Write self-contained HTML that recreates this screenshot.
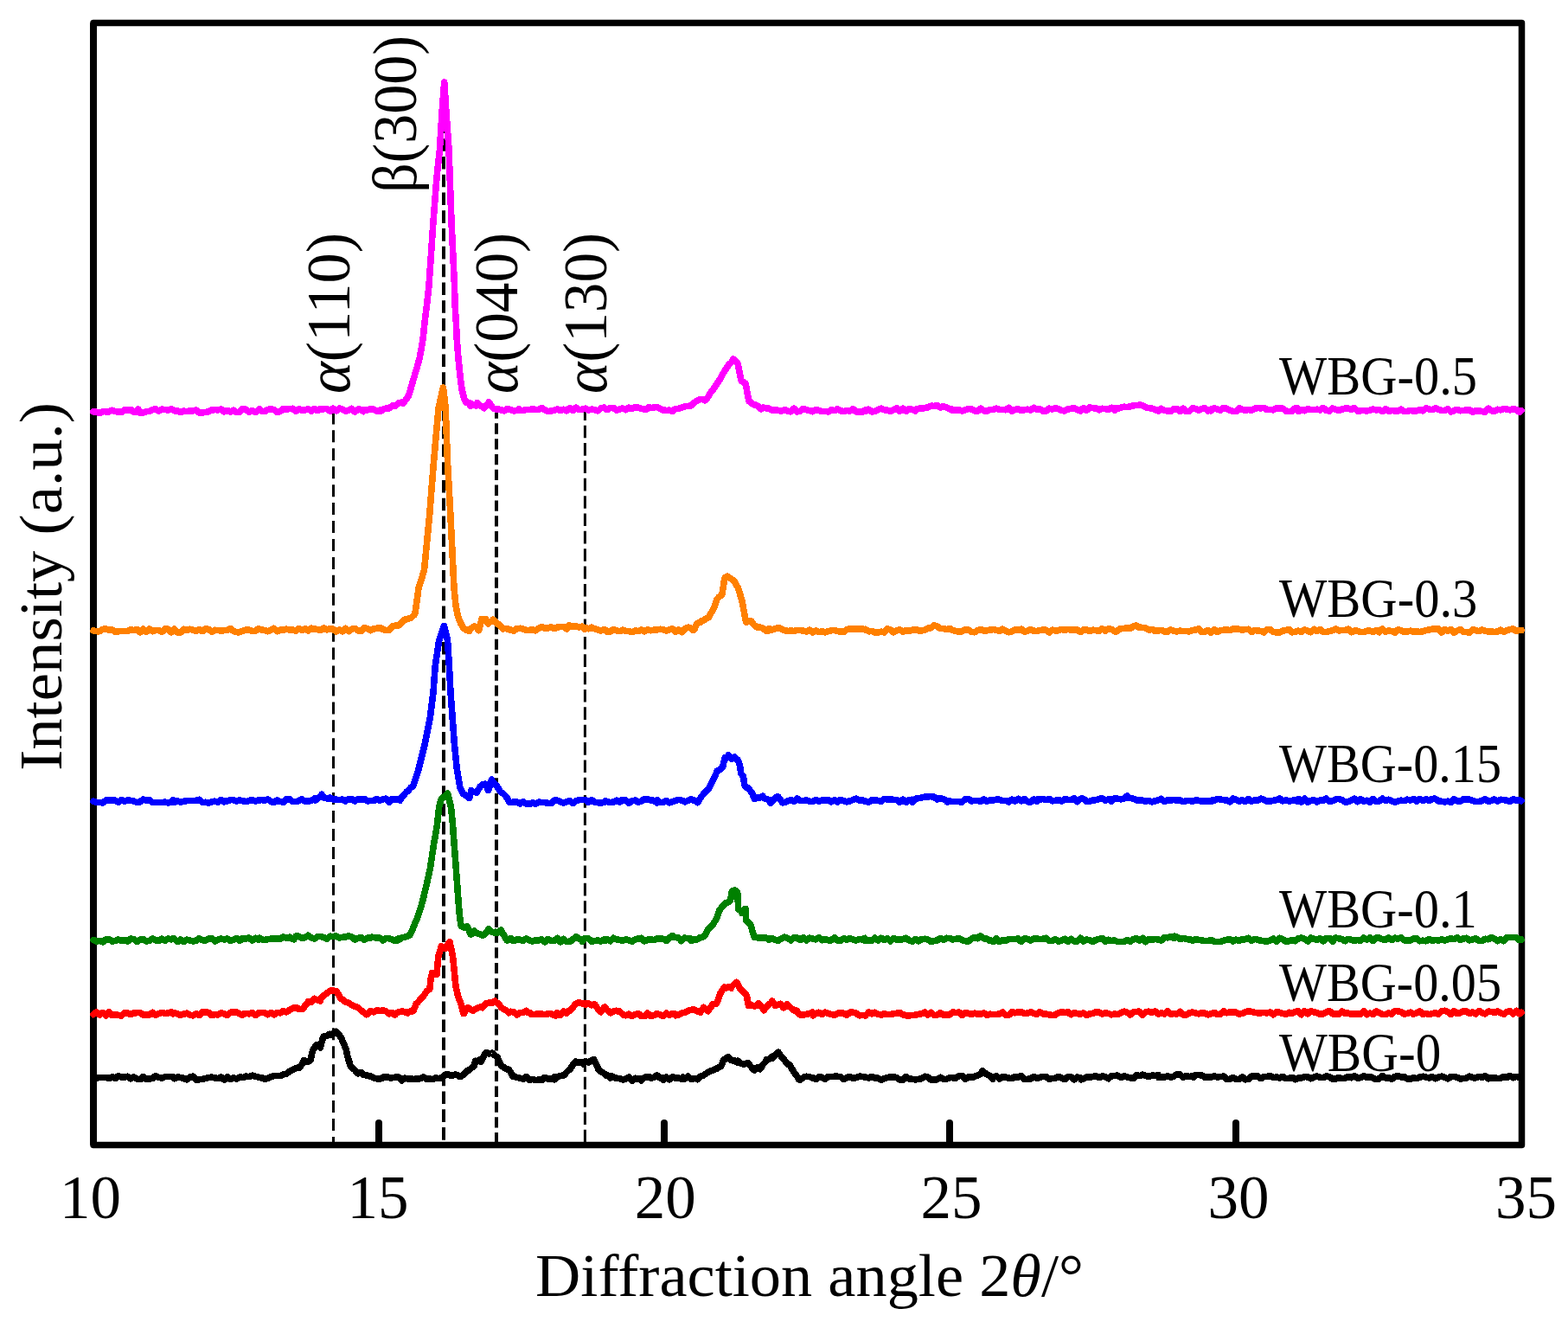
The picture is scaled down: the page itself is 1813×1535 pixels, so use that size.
<!DOCTYPE html><html><head><meta charset="utf-8"><title>XRD patterns</title><style>html,body{margin:0;padding:0;background:#fff;}svg{display:block;}text{font-family:"Liberation Serif", "DejaVu Serif", serif;}</style></head><body>
<svg width="1813" height="1535" viewBox="0 0 1813 1535">
<rect x="0" y="0" width="1813" height="1535" fill="#fff"/>
<line x1="438" y1="1298" x2="438" y2="1322" stroke="#000" stroke-width="8" stroke-linecap="round"/>
<line x1="768" y1="1298" x2="768" y2="1322" stroke="#000" stroke-width="8" stroke-linecap="round"/>
<line x1="1098" y1="1298" x2="1098" y2="1322" stroke="#000" stroke-width="8" stroke-linecap="round"/>
<line x1="1429" y1="1298" x2="1429" y2="1322" stroke="#000" stroke-width="8" stroke-linecap="round"/>
<path d="M108 26.5 H1759.5 V1323.5 H108 Z" fill="none" stroke="#000" stroke-width="7.5" stroke-linejoin="round"/>
<line x1="108" y1="26.5" x2="108" y2="1323.5" stroke="#000" stroke-width="8"/>
<line x1="385.5" y1="478.0" x2="385.5" y2="1320" stroke="#000" stroke-width="3.0" stroke-dasharray="14.00 6.94" stroke-dashoffset="1.62"/>
<line x1="513.0" y1="126.0" x2="513.0" y2="1320" stroke="#000" stroke-width="4.0" stroke-dasharray="14.60 6.18" stroke-dashoffset="7.40"/>
<line x1="574.0" y1="477.0" x2="574.0" y2="1320" stroke="#000" stroke-width="4.0" stroke-dasharray="12.30 5.52" stroke-dashoffset="5.48"/>
<line x1="676.4" y1="476.0" x2="676.4" y2="1320" stroke="#000" stroke-width="3.0" stroke-dasharray="14.60 5.75" stroke-dashoffset="4.60"/>
<path d="M108.0 475.9 L111.6 476.2 L115.2 477.7 L118.8 475.6 L122.4 475.8 L126.0 476.0 L129.6 474.2 L133.2 475.6 L136.8 476.0 L140.4 476.6 L144.0 473.6 L147.6 474.4 L151.2 473.4 L154.8 476.4 L158.4 475.9 L160.0 473.0 L162.0 477.1 L165.6 477.0 L169.2 475.7 L172.8 475.5 L176.4 473.5 L180.0 472.9 L183.6 475.1 L187.2 473.1 L190.8 473.6 L194.4 473.9 L198.0 472.9 L201.6 474.8 L205.2 474.7 L208.8 476.5 L212.4 475.1 L216.0 475.6 L219.6 475.0 L220.0 475.7 L223.2 474.8 L226.8 474.0 L230.4 477.1 L234.0 477.1 L237.6 476.4 L241.2 475.8 L244.8 474.0 L248.4 473.6 L252.0 473.9 L255.6 472.9 L259.2 475.9 L262.8 474.3 L266.4 476.2 L270.0 474.2 L273.6 476.7 L277.2 476.2 L280.8 472.4 L284.4 473.3 L288.0 476.4 L291.6 474.4 L295.2 476.6 L298.8 474.1 L300.0 472.6 L302.4 475.0 L306.0 475.7 L309.6 473.4 L313.2 472.6 L316.8 473.7 L320.4 476.4 L324.0 475.5 L327.6 472.6 L331.2 473.2 L334.8 472.5 L338.4 472.3 L342.0 475.5 L345.6 472.8 L349.2 474.4 L352.8 473.9 L356.4 472.8 L360.0 475.1 L363.6 472.5 L367.2 474.7 L370.8 472.4 L372.0 473.7 L374.4 472.7 L378.0 472.6 L381.6 475.1 L385.0 474.3 L385.2 472.2 L388.8 474.8 L392.4 472.1 L396.0 473.0 L399.6 475.1 L403.2 474.4 L406.8 472.3 L410.4 476.1 L414.0 473.1 L417.6 473.4 L420.0 475.6 L421.2 473.8 L424.8 473.8 L428.4 472.9 L432.0 473.1 L435.6 475.2 L439.2 474.0 L440.0 475.3 L442.8 473.4 L446.4 472.0 L450.0 471.8 L453.5 469.0 L453.6 469.2 L457.2 469.1 L460.8 466.0 L464.4 465.0 L466.0 466.4 L468.0 463.7 L471.6 458.7 L472.3 458.2 L475.2 448.3 L476.2 444.7 L478.8 435.8 L480.9 429.0 L482.4 423.9 L485.3 413.4 L486.0 409.4 L489.0 392.5 L489.6 386.4 L491.1 371.7 L493.2 354.8 L493.7 350.9 L496.0 330.0 L496.8 318.2 L500.4 264.9 L501.0 256.0 L504.0 217.7 L505.0 205.0 L507.6 180.4 L508.5 172.0 L511.0 130.0 L511.2 127.5 L513.7 95.0 L514.8 111.7 L516.0 130.0 L518.4 163.6 L519.0 172.0 L522.0 256.0 L525.5 330.0 L525.6 334.1 L526.0 351.0 L527.3 372.0 L528.3 392.5 L529.2 404.2 L529.9 413.4 L532.0 434.3 L532.8 440.7 L534.0 450.0 L536.4 459.7 L536.6 460.3 L539.0 465.5 L540.0 465.0 L543.6 465.8 L544.0 469.0 L547.2 468.2 L550.8 469.0 L552.0 465.4 L554.4 468.5 L558.0 470.0 L560.0 471.7 L561.6 469.0 L565.0 468.2 L565.2 464.6 L568.8 469.9 L570.0 471.5 L572.4 472.8 L576.0 473.0 L579.6 473.7 L580.0 474.1 L583.2 474.8 L586.8 472.3 L590.4 473.8 L594.0 474.8 L597.6 474.6 L600.0 472.6 L601.2 474.3 L604.8 474.6 L608.4 473.4 L612.0 473.7 L615.6 472.6 L619.2 473.6 L622.8 473.7 L626.4 471.4 L630.0 473.9 L633.6 475.5 L637.2 475.0 L640.8 474.4 L644.4 473.0 L648.0 474.5 L650.0 473.9 L651.6 473.2 L655.2 474.9 L658.8 471.6 L662.4 474.5 L666.0 471.3 L669.6 473.7 L673.2 473.2 L676.8 472.1 L680.4 474.1 L684.0 473.1 L687.6 473.6 L691.2 474.9 L694.8 472.0 L698.4 470.9 L700.0 472.2 L702.0 473.7 L705.6 471.5 L709.2 471.3 L712.8 474.2 L716.4 473.0 L720.0 472.0 L723.6 473.7 L727.2 471.2 L730.8 472.5 L734.4 470.4 L738.0 471.2 L741.6 472.6 L745.2 472.9 L748.8 472.7 L750.0 470.5 L752.4 471.6 L756.0 470.9 L759.6 470.6 L763.2 472.3 L766.8 474.0 L770.4 474.4 L774.0 474.2 L777.6 475.5 L780.0 473.1 L781.2 472.5 L784.8 472.5 L788.4 471.0 L792.0 469.8 L795.6 469.4 L799.2 468.9 L800.0 468.4 L802.8 465.4 L806.4 462.9 L808.0 462.3 L810.0 461.5 L813.6 461.9 L815.0 462.8 L817.2 461.3 L820.8 454.9 L824.4 450.5 L828.0 445.0 L830.0 442.0 L831.6 439.8 L835.2 433.0 L838.8 427.3 L842.4 421.9 L843.0 421.0 L846.0 418.6 L848.0 415.0 L849.6 416.5 L853.0 420.0 L853.2 421.1 L856.8 439.0 L857.0 440.0 L860.4 442.3 L862.0 443.0 L864.0 453.7 L866.0 464.0 L867.6 464.7 L871.2 467.8 L872.0 467.7 L874.8 468.4 L878.4 471.2 L880.0 472.7 L882.0 471.0 L885.6 471.7 L889.2 472.3 L892.8 474.0 L896.4 473.7 L900.0 474.5 L903.6 475.1 L907.2 473.5 L910.8 475.3 L914.4 475.8 L918.0 472.2 L921.6 475.9 L925.2 475.0 L928.8 472.4 L932.4 473.8 L936.0 474.6 L939.6 475.8 L943.2 473.5 L946.8 474.3 L950.4 475.7 L954.0 475.3 L957.6 476.0 L961.2 473.8 L964.8 474.7 L968.4 472.7 L972.0 475.0 L975.6 475.4 L979.2 474.6 L982.8 475.0 L986.4 472.7 L990.0 475.8 L993.6 476.1 L997.2 476.1 L1000.0 474.2 L1000.8 475.3 L1004.4 473.2 L1008.0 475.8 L1011.6 475.6 L1015.2 473.3 L1018.8 472.2 L1022.4 473.7 L1026.0 474.2 L1029.6 475.2 L1033.2 473.9 L1036.8 471.9 L1040.4 475.4 L1044.0 472.1 L1047.6 475.3 L1051.2 472.6 L1054.8 473.3 L1058.4 475.2 L1060.0 472.7 L1062.0 472.3 L1065.6 472.2 L1069.2 471.7 L1072.8 470.8 L1076.4 469.2 L1080.0 469.4 L1083.6 468.6 L1087.2 471.0 L1090.8 469.5 L1094.4 471.0 L1098.0 473.0 L1100.0 472.7 L1101.6 474.5 L1105.2 474.1 L1108.8 473.6 L1112.4 475.0 L1116.0 473.7 L1119.6 472.6 L1123.2 472.9 L1126.8 474.9 L1130.4 475.2 L1134.0 472.1 L1137.6 474.9 L1141.2 475.4 L1144.8 473.5 L1148.4 473.7 L1152.0 472.1 L1155.6 473.5 L1159.2 473.4 L1162.8 473.8 L1166.4 471.3 L1170.0 475.4 L1173.6 473.4 L1177.2 472.9 L1180.8 474.6 L1184.4 473.6 L1188.0 473.2 L1191.6 474.1 L1195.2 471.3 L1198.8 473.4 L1202.4 472.9 L1206.0 475.2 L1209.6 475.1 L1213.2 472.2 L1216.8 473.1 L1220.4 471.5 L1224.0 472.9 L1227.6 474.5 L1231.2 474.9 L1234.8 473.0 L1238.4 472.3 L1242.0 471.8 L1245.6 473.6 L1249.2 475.0 L1252.8 471.5 L1256.4 474.3 L1260.0 471.0 L1263.6 471.7 L1267.2 471.9 L1270.8 473.9 L1274.4 472.3 L1278.0 472.4 L1281.6 473.5 L1285.2 471.3 L1288.8 474.0 L1290.0 471.5 L1292.4 472.6 L1296.0 471.1 L1299.6 470.2 L1303.2 470.7 L1306.8 469.8 L1310.4 468.9 L1314.0 468.3 L1315.0 468.6 L1317.6 467.9 L1321.2 468.7 L1324.8 470.9 L1328.4 471.6 L1332.0 472.0 L1335.6 473.8 L1339.2 473.7 L1340.0 474.9 L1342.8 472.3 L1346.4 474.6 L1350.0 474.9 L1353.6 475.3 L1357.2 472.7 L1360.8 472.7 L1364.4 475.4 L1368.0 472.3 L1371.6 475.7 L1375.2 475.2 L1378.8 471.9 L1382.4 472.4 L1386.0 474.5 L1389.6 472.4 L1393.2 471.7 L1396.8 475.0 L1400.0 473.2 L1400.4 474.8 L1404.0 471.9 L1407.6 473.1 L1411.2 474.3 L1414.8 471.4 L1418.4 472.2 L1422.0 474.3 L1425.6 475.3 L1429.2 475.6 L1432.8 471.8 L1436.4 473.5 L1440.0 474.6 L1443.6 473.5 L1447.2 474.3 L1450.8 472.1 L1454.4 471.6 L1458.0 471.8 L1461.6 471.5 L1465.2 473.7 L1468.8 473.6 L1472.4 473.8 L1476.0 471.9 L1479.6 472.1 L1483.2 472.2 L1486.8 475.0 L1490.4 475.7 L1494.0 475.4 L1497.6 471.7 L1500.0 471.6 L1501.2 475.5 L1504.8 473.3 L1508.4 474.7 L1512.0 472.7 L1515.6 473.4 L1519.2 473.6 L1522.8 473.2 L1526.4 473.9 L1530.0 471.4 L1533.6 474.4 L1537.2 475.0 L1540.8 472.1 L1544.4 473.3 L1548.0 474.6 L1551.6 473.1 L1555.2 472.2 L1558.8 472.0 L1562.4 473.6 L1566.0 471.4 L1569.6 475.2 L1573.2 474.8 L1576.8 474.4 L1580.4 475.1 L1584.0 474.1 L1587.6 473.1 L1591.2 473.9 L1594.8 473.5 L1598.4 475.6 L1600.0 474.8 L1602.0 472.5 L1605.6 475.3 L1609.2 474.6 L1612.8 474.8 L1616.4 475.0 L1620.0 473.2 L1623.6 475.4 L1627.2 475.3 L1630.8 474.5 L1634.4 474.9 L1638.0 474.9 L1641.6 473.4 L1645.2 474.8 L1648.8 471.9 L1652.4 473.1 L1656.0 473.7 L1659.6 471.7 L1663.2 473.3 L1666.8 474.5 L1670.4 474.5 L1674.0 472.8 L1677.6 475.9 L1681.2 474.7 L1684.8 473.3 L1688.4 474.8 L1692.0 474.4 L1695.6 474.2 L1699.2 473.6 L1702.8 476.3 L1706.4 474.8 L1710.0 475.1 L1713.6 475.4 L1717.2 476.3 L1720.8 472.2 L1724.4 474.8 L1728.0 475.3 L1731.6 473.3 L1735.2 473.9 L1738.8 472.4 L1742.4 473.1 L1746.0 473.9 L1749.6 472.7 L1753.2 473.4 L1756.8 476.3 L1759.0 474.6" fill="none" stroke="#ff00ff" stroke-width="7.6" stroke-linejoin="round" stroke-linecap="round" shape-rendering="crispEdges"/>
<path d="M108.0 729.0 L111.6 729.7 L115.2 729.7 L118.8 727.4 L122.4 726.8 L126.0 728.4 L129.6 728.0 L133.2 730.4 L136.8 729.8 L140.4 729.4 L144.0 729.3 L147.6 729.7 L151.2 727.4 L154.8 728.7 L158.4 727.5 L162.0 730.8 L165.6 727.1 L169.2 730.4 L172.8 727.1 L176.4 729.8 L180.0 728.3 L183.6 728.6 L187.2 730.5 L190.8 726.9 L194.4 727.1 L198.0 730.8 L200.0 729.0 L201.6 727.2 L205.2 731.1 L208.8 730.9 L212.4 727.2 L216.0 728.6 L219.6 727.3 L223.2 728.1 L226.8 729.4 L230.4 727.4 L234.0 729.7 L237.6 726.9 L241.2 727.4 L244.8 730.2 L248.4 728.3 L252.0 728.4 L255.6 729.1 L259.2 728.6 L262.8 728.2 L266.4 726.6 L270.0 729.6 L273.6 730.7 L277.2 730.7 L280.8 729.3 L284.4 728.0 L288.0 728.0 L291.6 729.4 L295.2 729.3 L298.8 726.8 L300.0 727.3 L302.4 727.9 L306.0 728.5 L309.6 729.8 L313.2 728.4 L316.8 726.3 L320.4 729.8 L324.0 728.1 L327.6 728.4 L331.2 727.1 L334.8 728.0 L338.4 727.8 L342.0 729.4 L345.6 726.5 L349.2 728.4 L352.8 726.8 L356.4 729.0 L360.0 726.1 L363.6 727.2 L367.2 727.4 L370.8 728.7 L374.4 726.1 L378.0 727.9 L381.6 726.7 L385.0 727.1 L385.2 727.9 L388.8 730.0 L392.4 727.9 L396.0 729.9 L399.6 726.4 L403.2 729.7 L406.8 727.2 L410.4 726.4 L414.0 728.8 L417.6 729.5 L421.2 725.5 L424.8 726.6 L428.4 728.8 L432.0 726.9 L435.6 726.4 L439.2 725.5 L440.0 725.7 L442.8 727.6 L446.4 728.5 L450.0 728.1 L452.0 726.0 L453.6 724.0 L457.2 723.2 L460.8 722.8 L461.0 722.8 L464.4 719.7 L468.0 716.1 L469.0 716.1 L471.6 715.2 L475.2 714.5 L476.0 713.5 L478.8 710.9 L480.0 709.0 L482.4 691.5 L484.0 680.0 L486.0 673.8 L489.6 661.8 L490.5 659.0 L493.2 631.1 L496.5 597.0 L496.8 593.3 L500.4 547.8 L501.5 534.0 L504.0 505.8 L507.0 472.0 L507.6 469.5 L511.2 453.3 L512.5 448.0 L514.8 468.1 L515.2 472.0 L517.5 534.0 L518.4 550.3 L521.0 597.0 L522.0 617.7 L524.0 659.0 L525.0 680.0 L525.6 686.1 L527.0 700.0 L529.2 710.6 L529.5 712.0 L532.8 720.8 L533.0 721.0 L536.0 726.5 L536.4 726.4 L540.0 728.6 L543.0 729.2 L543.6 727.2 L547.2 724.8 L549.0 724.0 L550.8 725.3 L553.6 728.5 L554.4 725.8 L557.0 715.5 L558.0 716.0 L561.0 715.3 L561.6 715.8 L564.6 721.0 L565.2 720.1 L568.8 717.8 L570.0 716.3 L572.4 718.2 L575.0 721.2 L576.0 721.1 L579.6 724.7 L582.0 727.0 L583.2 726.5 L586.8 726.9 L590.0 728.1 L590.4 727.8 L594.0 729.1 L597.6 726.6 L601.2 726.3 L604.8 727.0 L608.4 728.4 L612.0 728.4 L615.6 727.8 L619.2 728.8 L622.8 726.3 L626.4 724.7 L630.0 726.4 L633.6 726.0 L637.2 724.8 L640.8 726.6 L644.4 725.1 L648.0 724.4 L651.6 724.6 L655.2 727.0 L658.0 722.9 L658.8 724.4 L662.4 724.2 L666.0 724.0 L669.6 725.0 L673.2 724.2 L676.0 727.2 L676.8 725.6 L680.4 726.8 L684.0 725.2 L687.6 726.8 L691.2 727.8 L694.8 729.1 L698.4 727.4 L700.0 728.3 L702.0 730.1 L705.6 730.0 L709.2 727.4 L712.8 728.7 L716.4 729.7 L720.0 728.2 L723.6 729.4 L727.2 729.4 L730.8 730.7 L734.4 728.9 L738.0 729.5 L741.6 728.1 L745.2 729.8 L748.8 728.0 L752.4 728.8 L756.0 728.2 L759.6 728.0 L763.2 727.3 L766.8 727.7 L770.4 729.1 L774.0 727.8 L777.6 726.9 L781.2 730.3 L784.8 728.0 L788.4 730.7 L790.0 729.3 L792.0 727.0 L795.6 725.2 L796.0 725.1 L799.2 726.5 L801.8 728.6 L802.8 727.6 L806.0 720.5 L806.4 720.5 L810.0 719.2 L812.0 717.3 L813.6 717.0 L817.2 714.3 L819.0 714.0 L820.8 710.9 L824.4 705.0 L824.8 704.5 L828.0 695.7 L829.0 692.5 L831.6 689.7 L834.8 687.5 L835.2 685.2 L837.7 669.0 L838.8 667.3 L841.3 666.2 L842.4 667.0 L846.0 669.6 L849.0 671.5 L849.6 672.9 L853.2 679.2 L853.5 680.0 L856.8 690.5 L857.7 693.0 L860.4 707.6 L860.6 708.8 L862.5 719.0 L864.0 718.8 L866.0 717.4 L867.6 717.9 L869.0 718.1 L871.2 721.7 L874.8 724.8 L875.0 724.8 L878.4 725.1 L882.0 726.3 L885.6 728.9 L889.0 728.9 L889.2 726.7 L892.8 728.0 L896.4 726.7 L900.0 725.4 L901.0 725.5 L903.6 726.9 L907.2 728.7 L910.0 729.0 L910.8 729.5 L914.4 728.9 L918.0 729.6 L921.6 728.5 L925.2 728.6 L928.8 729.1 L932.4 729.9 L936.0 728.0 L939.6 730.9 L943.2 729.0 L946.8 730.6 L950.4 729.8 L954.0 731.0 L957.6 729.8 L961.2 728.7 L964.8 728.6 L968.4 729.5 L972.0 730.1 L975.6 730.5 L979.2 727.4 L982.8 727.1 L986.4 727.3 L990.0 727.2 L993.6 727.0 L997.2 726.8 L1000.0 727.9 L1000.8 727.3 L1004.4 729.8 L1008.0 729.5 L1011.6 731.0 L1015.2 731.0 L1018.8 730.1 L1022.4 731.0 L1026.0 726.9 L1029.6 727.8 L1033.2 730.9 L1036.8 728.9 L1040.4 727.7 L1044.0 730.1 L1047.6 728.7 L1051.2 729.2 L1054.8 728.2 L1058.4 727.9 L1060.0 727.5 L1062.0 728.8 L1065.6 728.9 L1069.2 728.0 L1072.8 726.3 L1076.4 725.8 L1080.0 722.9 L1083.6 723.8 L1087.2 726.7 L1090.8 726.5 L1094.4 727.6 L1098.0 726.4 L1100.0 727.5 L1101.6 728.4 L1105.2 729.5 L1108.8 730.0 L1112.4 729.7 L1116.0 727.9 L1119.6 728.1 L1123.2 730.2 L1126.8 730.8 L1130.4 728.6 L1134.0 727.3 L1137.6 729.2 L1141.2 728.9 L1144.8 728.1 L1148.4 727.6 L1152.0 728.3 L1155.6 729.3 L1159.2 727.2 L1162.8 729.0 L1166.4 730.8 L1170.0 729.9 L1173.6 727.8 L1177.2 728.5 L1180.8 727.2 L1184.4 730.0 L1188.0 729.5 L1191.6 727.5 L1195.2 729.2 L1198.8 729.4 L1200.0 729.3 L1202.4 728.5 L1206.0 728.1 L1209.6 728.3 L1213.2 731.1 L1216.8 728.2 L1220.4 728.9 L1224.0 728.7 L1227.6 727.4 L1231.2 728.4 L1234.8 727.5 L1238.4 728.0 L1242.0 728.2 L1245.6 728.1 L1249.2 730.6 L1252.8 727.8 L1256.4 728.0 L1260.0 729.4 L1263.6 728.2 L1267.2 728.7 L1270.8 729.3 L1274.4 726.7 L1278.0 729.3 L1281.6 726.8 L1285.2 727.4 L1288.8 729.8 L1290.0 730.4 L1292.4 728.7 L1296.0 726.3 L1299.6 726.6 L1303.2 725.4 L1306.8 726.7 L1310.4 723.9 L1314.0 723.0 L1315.0 724.6 L1317.6 725.0 L1321.2 725.5 L1324.8 725.9 L1328.4 728.2 L1332.0 727.3 L1335.6 729.6 L1339.2 728.4 L1340.0 728.9 L1342.8 728.4 L1346.4 729.9 L1350.0 730.1 L1353.6 727.9 L1357.2 729.1 L1360.8 730.0 L1364.4 729.0 L1368.0 729.7 L1371.6 729.5 L1375.2 729.9 L1378.8 728.4 L1382.4 728.1 L1386.0 726.9 L1389.6 730.7 L1393.2 730.3 L1396.8 728.5 L1400.0 731.1 L1400.4 730.8 L1404.0 727.5 L1407.6 730.5 L1411.2 728.7 L1414.8 728.2 L1418.4 727.9 L1422.0 728.6 L1425.6 727.0 L1429.2 727.0 L1432.8 727.3 L1436.4 728.2 L1440.0 727.5 L1443.6 727.3 L1447.2 730.5 L1450.8 728.5 L1454.4 729.0 L1458.0 729.4 L1461.6 730.9 L1465.2 727.4 L1468.8 727.8 L1472.4 730.6 L1476.0 730.8 L1479.6 730.9 L1483.2 729.1 L1486.8 728.4 L1490.4 727.6 L1494.0 730.8 L1497.6 730.2 L1501.2 729.2 L1504.8 730.3 L1508.4 727.9 L1512.0 729.1 L1515.6 730.8 L1519.2 727.3 L1522.8 729.5 L1526.4 727.6 L1530.0 730.5 L1533.6 730.5 L1537.2 729.6 L1540.8 728.7 L1544.4 726.9 L1548.0 729.0 L1551.6 728.4 L1555.2 728.6 L1558.8 727.1 L1562.4 730.8 L1566.0 729.1 L1569.6 729.3 L1573.2 730.5 L1576.8 730.7 L1580.4 729.2 L1584.0 729.2 L1587.6 730.5 L1591.2 728.4 L1594.8 730.8 L1598.4 726.9 L1602.0 730.3 L1605.6 729.1 L1609.2 729.5 L1612.8 731.2 L1616.4 727.8 L1620.0 728.6 L1623.6 730.3 L1627.2 730.1 L1630.8 729.1 L1634.4 730.2 L1638.0 729.8 L1641.6 730.6 L1645.2 729.7 L1648.8 728.4 L1652.4 728.1 L1656.0 727.2 L1659.6 727.3 L1663.2 727.0 L1666.8 731.1 L1670.4 727.4 L1674.0 729.5 L1677.6 727.4 L1681.2 731.1 L1684.8 729.1 L1688.4 727.6 L1692.0 730.4 L1695.6 730.6 L1699.2 731.1 L1702.8 727.8 L1706.4 728.6 L1710.0 729.7 L1713.6 728.0 L1717.2 729.3 L1720.8 729.9 L1724.4 730.1 L1728.0 730.4 L1731.6 730.1 L1735.2 728.1 L1738.8 730.1 L1742.4 728.7 L1746.0 727.5 L1749.6 726.9 L1753.2 729.5 L1756.8 728.4 L1759.0 728.5" fill="none" stroke="#ff8000" stroke-width="7.6" stroke-linejoin="round" stroke-linecap="round" shape-rendering="crispEdges"/>
<path d="M108.0 926.2 L111.6 927.3 L115.2 927.3 L118.8 928.0 L122.4 925.1 L126.0 925.2 L129.6 924.8 L133.2 925.2 L136.8 927.4 L140.4 924.7 L144.0 926.4 L147.6 925.0 L151.2 925.4 L154.8 925.9 L158.4 927.7 L162.0 926.7 L165.6 924.1 L169.2 925.2 L172.8 924.6 L176.4 927.7 L180.0 927.5 L183.6 927.4 L187.2 927.5 L190.8 927.1 L194.4 928.0 L198.0 927.3 L200.0 924.9 L201.6 927.5 L205.2 925.9 L208.8 927.1 L212.4 926.3 L216.0 925.7 L219.6 925.4 L223.2 925.7 L226.8 925.2 L230.4 924.3 L234.0 927.4 L237.6 927.3 L241.2 928.1 L244.8 926.8 L248.4 926.2 L252.0 927.1 L255.6 924.4 L259.2 926.8 L262.8 925.8 L266.4 924.6 L270.0 924.7 L273.6 926.1 L277.2 924.9 L280.8 925.8 L284.4 926.5 L288.0 925.5 L291.6 924.4 L295.2 926.0 L298.8 924.8 L300.0 924.9 L302.4 924.6 L306.0 925.3 L309.6 924.0 L313.2 926.4 L316.8 927.6 L320.4 925.1 L324.0 926.5 L327.6 927.3 L331.2 923.4 L334.8 923.8 L338.4 926.5 L342.0 926.6 L345.6 925.7 L349.2 923.6 L350.0 924.6 L352.8 926.3 L356.4 926.1 L360.0 925.5 L363.6 923.0 L365.0 925.0 L367.2 922.4 L370.8 921.0 L372.0 918.3 L374.4 922.0 L378.0 922.5 L380.0 923.7 L381.6 922.1 L385.2 924.0 L388.8 924.2 L392.4 924.6 L396.0 924.1 L399.6 925.9 L400.0 924.4 L403.2 924.2 L406.8 923.6 L410.4 925.9 L414.0 923.5 L417.6 924.0 L421.2 923.4 L424.8 925.9 L428.4 925.6 L432.0 925.6 L435.6 923.5 L439.2 925.2 L440.0 924.8 L442.8 923.7 L446.4 923.2 L450.0 927.4 L453.6 923.6 L457.2 924.3 L460.8 924.2 L462.5 925.2 L464.4 921.9 L468.0 917.8 L470.0 915.3 L471.6 914.6 L475.2 910.0 L477.5 909.0 L478.8 905.1 L482.4 894.5 L483.8 889.9 L486.0 881.1 L489.6 866.8 L491.3 859.9 L493.2 850.2 L496.8 832.4 L497.3 829.9 L500.4 804.9 L501.0 800.0 L503.2 770.0 L504.0 764.8 L507.6 740.5 L507.7 740.0 L511.2 730.1 L513.4 723.4 L514.8 729.3 L517.5 740.0 L518.4 754.2 L519.4 770.0 L521.0 800.0 L522.0 813.6 L523.2 830.0 L525.4 860.0 L525.6 861.9 L528.4 890.0 L529.2 894.5 L532.0 911.0 L532.8 912.4 L536.0 918.0 L536.4 917.9 L540.0 920.5 L542.7 922.5 L543.6 919.4 L545.0 913.5 L547.2 915.4 L550.8 915.5 L551.3 916.1 L554.4 910.4 L555.2 909.0 L558.0 906.9 L561.4 906.2 L561.6 906.8 L564.6 913.5 L565.2 911.7 L568.5 901.1 L568.8 902.4 L572.4 905.8 L574.7 909.0 L576.0 910.9 L578.0 914.5 L579.6 916.2 L581.0 916.8 L583.2 918.6 L586.5 922.5 L586.8 923.6 L589.0 927.5 L590.4 927.5 L594.0 927.1 L597.6 927.0 L601.2 929.1 L604.8 926.7 L608.4 928.9 L610.0 928.7 L612.0 929.7 L615.6 927.8 L619.2 929.3 L622.8 927.1 L626.4 927.5 L630.0 927.5 L633.6 928.4 L637.2 928.6 L640.8 925.2 L644.4 925.2 L648.0 926.9 L651.6 928.0 L655.2 926.8 L658.8 925.7 L662.4 928.5 L666.0 925.6 L669.6 924.7 L673.2 924.5 L676.8 924.3 L680.4 927.3 L684.0 924.5 L687.6 927.1 L691.2 927.7 L694.8 928.2 L698.4 927.4 L700.0 925.7 L702.0 926.5 L705.6 927.5 L709.2 927.0 L712.8 925.1 L716.4 927.2 L720.0 924.3 L723.6 925.2 L727.2 928.2 L730.8 925.9 L734.4 925.0 L738.0 927.3 L741.6 925.8 L745.2 923.8 L748.8 923.9 L752.4 924.9 L756.0 925.3 L759.6 927.9 L760.0 924.9 L763.2 927.4 L766.8 927.3 L770.4 925.4 L774.0 927.8 L777.6 926.7 L781.2 925.4 L784.8 924.4 L788.4 925.2 L792.0 926.9 L795.6 925.3 L799.2 923.8 L801.7 924.6 L802.8 925.5 L806.4 926.4 L806.7 927.7 L810.0 922.1 L813.6 917.5 L817.2 913.4 L819.6 911.6 L820.8 909.3 L824.4 901.6 L824.5 901.6 L828.0 894.0 L829.5 890.7 L831.6 890.2 L835.2 886.9 L835.5 887.0 L838.0 876.0 L838.8 875.4 L841.3 875.8 L842.4 872.8 L846.0 877.2 L849.6 875.0 L850.0 876.9 L853.0 878.5 L853.2 878.5 L855.5 885.0 L856.8 893.5 L857.0 894.5 L859.5 897.5 L860.4 903.9 L861.0 908.0 L864.0 910.7 L865.0 910.6 L867.6 914.2 L869.2 916.0 L871.2 920.8 L872.2 923.5 L874.8 921.4 L878.4 922.2 L882.0 920.3 L882.1 921.9 L885.6 923.4 L889.2 924.4 L891.0 928.1 L892.8 925.8 L896.4 922.4 L899.0 920.6 L900.0 921.2 L903.6 926.0 L905.0 927.9 L907.2 927.5 L910.8 925.7 L914.4 924.6 L918.0 926.1 L920.0 925.4 L921.6 923.1 L925.2 925.6 L928.8 925.5 L932.4 925.1 L936.0 926.2 L939.6 926.7 L943.2 924.5 L946.8 926.4 L950.4 925.0 L954.0 925.3 L957.6 924.6 L961.2 926.9 L964.8 924.8 L968.4 927.0 L972.0 924.3 L975.6 925.8 L979.2 926.8 L982.8 925.8 L986.4 924.5 L990.0 923.1 L993.6 924.9 L997.2 924.6 L1000.0 926.4 L1000.8 926.2 L1004.4 927.2 L1008.0 924.8 L1011.6 924.7 L1015.2 925.4 L1018.8 926.3 L1022.4 923.4 L1026.0 924.0 L1029.6 923.7 L1033.2 924.5 L1036.8 924.5 L1040.4 927.4 L1044.0 924.1 L1047.6 927.3 L1051.2 924.6 L1054.8 924.3 L1055.0 927.3 L1058.4 923.4 L1062.0 922.7 L1065.6 922.0 L1069.2 921.1 L1072.8 921.3 L1074.0 920.3 L1076.4 920.8 L1080.0 921.0 L1083.6 924.0 L1087.2 922.5 L1090.8 923.8 L1094.4 925.6 L1095.0 927.0 L1098.0 926.2 L1101.6 926.4 L1105.2 926.3 L1108.8 926.7 L1112.4 927.0 L1116.0 923.9 L1119.6 923.4 L1123.2 925.9 L1126.8 925.4 L1130.4 925.4 L1134.0 926.5 L1137.6 923.9 L1141.2 926.2 L1144.8 924.9 L1148.4 924.9 L1152.0 924.1 L1155.6 924.3 L1159.2 925.5 L1162.8 925.4 L1166.4 926.9 L1170.0 924.2 L1173.6 926.1 L1177.2 923.3 L1180.8 925.8 L1184.4 923.6 L1188.0 926.6 L1191.6 927.1 L1195.2 923.9 L1198.8 926.4 L1200.0 923.8 L1202.4 924.1 L1206.0 923.3 L1209.6 924.7 L1213.2 923.3 L1216.8 925.9 L1220.4 925.3 L1224.0 924.6 L1227.6 925.9 L1231.2 923.8 L1234.8 924.3 L1238.4 924.4 L1242.0 922.8 L1245.6 926.7 L1249.2 923.2 L1252.8 923.2 L1256.4 926.3 L1260.0 926.4 L1263.6 924.8 L1267.2 924.7 L1270.8 923.4 L1274.4 922.8 L1278.0 925.1 L1281.6 923.9 L1285.0 923.7 L1285.2 926.5 L1288.8 922.6 L1292.4 923.2 L1296.0 923.8 L1299.6 923.2 L1303.2 920.1 L1304.0 922.6 L1306.8 922.3 L1310.4 923.2 L1314.0 924.9 L1317.6 925.1 L1321.2 925.1 L1324.8 926.5 L1325.0 925.5 L1328.4 925.7 L1332.0 926.8 L1335.6 925.9 L1339.2 924.9 L1342.8 923.3 L1346.4 926.6 L1350.0 924.6 L1353.6 925.0 L1357.2 924.4 L1360.8 925.5 L1364.4 924.8 L1368.0 926.7 L1371.6 925.6 L1375.2 925.4 L1378.8 926.4 L1382.4 924.9 L1386.0 925.3 L1389.6 926.2 L1393.2 926.0 L1396.8 926.1 L1400.0 926.7 L1400.4 925.3 L1404.0 925.2 L1407.6 923.6 L1411.2 923.9 L1414.8 924.7 L1418.4 925.0 L1422.0 926.8 L1425.6 923.0 L1429.2 924.3 L1432.8 926.1 L1436.4 924.8 L1440.0 926.5 L1443.6 923.5 L1447.2 926.2 L1450.8 924.7 L1454.4 925.3 L1458.0 923.1 L1461.6 924.6 L1465.2 926.3 L1468.8 926.0 L1472.4 925.3 L1476.0 924.7 L1479.6 923.0 L1483.2 925.9 L1486.8 924.8 L1490.4 926.0 L1494.0 925.5 L1497.6 924.6 L1500.0 926.6 L1501.2 923.4 L1504.8 927.0 L1508.4 923.2 L1512.0 927.1 L1515.6 925.4 L1519.2 924.8 L1522.8 927.0 L1526.4 925.1 L1530.0 925.1 L1533.6 923.1 L1537.2 926.4 L1540.8 925.7 L1544.4 923.9 L1548.0 923.4 L1551.6 924.7 L1555.2 927.0 L1558.8 926.7 L1562.4 925.0 L1566.0 923.1 L1569.6 926.6 L1573.2 923.8 L1576.8 926.2 L1580.4 925.2 L1584.0 927.2 L1587.6 923.6 L1591.2 926.5 L1594.8 926.1 L1598.4 923.1 L1602.0 925.5 L1605.6 924.3 L1609.2 926.1 L1612.8 927.2 L1616.4 926.0 L1620.0 925.2 L1623.6 925.7 L1627.2 924.1 L1630.8 925.1 L1634.4 923.6 L1638.0 926.2 L1641.6 923.4 L1645.2 925.4 L1648.8 923.9 L1652.4 925.6 L1656.0 923.4 L1659.6 923.2 L1663.2 925.9 L1666.8 926.3 L1670.4 927.0 L1674.0 926.1 L1677.6 927.5 L1681.2 923.8 L1684.8 925.9 L1688.4 926.0 L1692.0 923.9 L1695.6 923.8 L1699.2 924.2 L1702.8 925.5 L1706.4 926.7 L1710.0 926.3 L1713.6 925.7 L1717.2 923.6 L1720.8 926.4 L1724.4 925.5 L1728.0 924.0 L1731.6 926.0 L1735.2 924.3 L1738.8 924.6 L1742.4 925.3 L1746.0 926.6 L1749.6 923.8 L1753.2 925.2 L1756.8 924.3 L1759.0 925.7" fill="none" stroke="#0000ff" stroke-width="7.6" stroke-linejoin="round" stroke-linecap="round" shape-rendering="crispEdges"/>
<path d="M108.0 1086.5 L111.6 1087.9 L115.2 1087.6 L118.8 1088.9 L122.4 1085.9 L126.0 1085.8 L129.6 1087.9 L133.2 1087.6 L136.8 1086.0 L140.4 1087.6 L144.0 1086.4 L147.6 1088.0 L151.2 1085.1 L154.8 1085.5 L158.4 1088.5 L162.0 1086.1 L165.6 1085.6 L169.2 1088.0 L172.8 1087.2 L176.4 1085.1 L180.0 1086.8 L183.6 1087.3 L187.2 1085.1 L190.8 1087.2 L194.4 1084.9 L198.0 1085.8 L200.0 1084.7 L201.6 1085.2 L205.2 1088.6 L208.8 1086.0 L212.4 1088.6 L216.0 1086.2 L219.6 1086.9 L223.2 1088.0 L226.8 1087.2 L230.4 1084.7 L234.0 1086.7 L237.6 1086.9 L241.2 1084.9 L244.8 1084.5 L248.4 1087.9 L252.0 1086.3 L255.6 1084.9 L259.2 1086.0 L262.8 1085.0 L266.4 1087.5 L270.0 1086.2 L273.6 1084.4 L277.2 1087.5 L280.8 1084.3 L284.4 1085.1 L288.0 1084.0 L291.6 1087.1 L295.2 1084.3 L298.8 1086.1 L300.0 1084.3 L302.4 1085.8 L306.0 1086.5 L309.6 1085.7 L313.2 1085.2 L316.8 1085.1 L320.4 1084.7 L324.0 1085.2 L327.6 1083.0 L331.2 1084.3 L334.8 1083.2 L338.4 1085.6 L340.0 1085.8 L342.0 1082.1 L345.6 1082.3 L349.2 1084.4 L352.8 1083.7 L356.4 1081.2 L360.0 1083.9 L363.6 1085.0 L367.2 1082.8 L370.8 1082.5 L374.4 1083.5 L378.0 1085.1 L381.6 1082.2 L385.2 1082.5 L388.8 1082.0 L392.4 1084.0 L396.0 1083.3 L399.6 1082.5 L400.0 1083.0 L403.2 1081.8 L406.8 1083.1 L410.4 1086.0 L414.0 1084.6 L417.6 1083.5 L421.2 1086.3 L424.8 1084.2 L428.4 1083.9 L430.0 1083.1 L432.0 1083.6 L435.6 1083.9 L439.2 1084.2 L442.8 1087.0 L446.4 1084.6 L450.0 1084.6 L453.6 1086.2 L457.2 1087.7 L460.0 1085.3 L460.8 1086.6 L464.4 1084.0 L468.0 1083.3 L471.6 1082.1 L473.9 1081.0 L475.2 1078.3 L478.8 1069.8 L479.0 1069.3 L482.4 1061.3 L483.0 1060.0 L486.0 1050.7 L488.2 1043.3 L489.6 1037.7 L492.0 1027.6 L493.2 1022.5 L496.8 1006.5 L497.3 1004.2 L500.4 983.6 L501.2 978.0 L504.0 962.1 L505.1 956.0 L507.6 933.3 L507.7 932.6 L510.3 923.4 L511.2 922.3 L514.0 920.5 L514.8 920.0 L517.5 917.0 L518.4 920.5 L521.4 932.6 L522.0 938.3 L523.4 952.0 L525.3 978.0 L525.6 981.8 L527.3 1004.0 L529.2 1030.0 L531.2 1056.0 L532.8 1068.3 L533.0 1070.0 L535.0 1071.2 L536.4 1072.2 L540.0 1071.0 L540.3 1070.6 L543.6 1078.9 L544.2 1080.0 L547.2 1078.6 L548.3 1076.1 L550.8 1078.6 L554.4 1079.4 L557.2 1080.9 L558.0 1081.6 L561.6 1078.5 L565.2 1073.7 L566.0 1075.1 L568.8 1077.1 L572.4 1078.6 L573.0 1077.1 L576.0 1077.9 L579.4 1074.8 L579.6 1076.4 L583.2 1081.9 L585.9 1086.6 L586.8 1087.1 L590.4 1084.6 L594.0 1087.7 L597.6 1086.1 L600.0 1085.5 L601.2 1086.5 L604.8 1087.3 L608.4 1084.8 L612.0 1086.7 L615.6 1088.1 L619.2 1086.8 L622.8 1086.9 L626.4 1085.9 L630.0 1088.8 L633.6 1085.6 L637.2 1087.5 L640.8 1087.3 L644.4 1084.5 L648.0 1088.8 L651.6 1085.4 L655.2 1088.7 L658.8 1088.1 L660.0 1087.7 L662.4 1085.9 L666.0 1082.6 L669.6 1085.0 L672.0 1086.0 L673.2 1088.1 L676.8 1084.4 L680.4 1084.8 L684.0 1088.2 L687.6 1087.5 L691.2 1087.0 L694.8 1088.1 L698.4 1086.1 L700.0 1087.5 L702.0 1085.8 L705.6 1087.8 L709.2 1084.2 L712.8 1085.8 L716.4 1086.5 L720.0 1087.4 L723.6 1085.8 L727.2 1087.0 L730.8 1088.3 L734.4 1085.9 L738.0 1085.0 L741.6 1084.3 L745.2 1087.9 L748.8 1086.2 L752.4 1085.9 L756.0 1086.5 L759.6 1084.8 L763.2 1085.2 L766.8 1085.3 L770.0 1085.7 L770.4 1087.4 L774.0 1083.9 L777.6 1081.5 L779.0 1083.5 L781.2 1083.4 L784.8 1084.2 L787.8 1087.6 L788.4 1087.0 L791.8 1084.0 L792.0 1084.5 L795.6 1084.7 L799.2 1085.3 L799.7 1087.4 L802.8 1086.3 L806.4 1085.8 L809.7 1083.6 L810.0 1084.0 L813.6 1082.7 L815.0 1081.5 L817.2 1077.2 L819.0 1073.5 L820.8 1072.2 L824.4 1068.2 L824.8 1068.0 L828.0 1062.6 L829.0 1060.5 L831.6 1052.8 L832.0 1052.0 L835.2 1047.5 L837.7 1045.6 L838.8 1043.8 L842.4 1042.8 L844.5 1040.5 L846.0 1032.3 L846.5 1030.0 L849.6 1029.7 L849.9 1029.0 L852.7 1032.0 L853.2 1040.6 L853.8 1051.0 L856.8 1052.4 L857.7 1055.3 L860.4 1050.9 L862.0 1050.5 L862.8 1064.0 L864.0 1065.0 L867.6 1068.9 L867.8 1069.0 L871.2 1080.0 L872.2 1083.5 L874.8 1083.6 L878.4 1084.4 L882.0 1083.7 L885.6 1084.0 L889.2 1086.4 L890.0 1085.2 L892.8 1084.4 L896.4 1086.4 L900.0 1087.3 L903.6 1084.8 L907.2 1083.1 L910.8 1084.3 L914.4 1086.9 L918.0 1083.8 L921.6 1084.0 L925.2 1086.6 L928.8 1083.7 L932.4 1086.9 L936.0 1084.2 L939.6 1085.0 L943.2 1085.9 L946.8 1083.8 L950.4 1086.7 L954.0 1085.3 L957.6 1086.8 L961.2 1086.8 L964.8 1083.8 L968.4 1087.1 L972.0 1087.1 L975.6 1084.7 L979.2 1086.2 L982.8 1084.6 L986.4 1086.0 L990.0 1087.0 L993.6 1085.4 L997.2 1086.1 L1000.0 1084.4 L1000.8 1087.6 L1004.4 1086.6 L1008.0 1087.5 L1011.6 1084.2 L1015.2 1087.1 L1018.8 1084.3 L1022.4 1086.3 L1026.0 1084.9 L1029.6 1087.9 L1033.2 1084.4 L1036.8 1086.0 L1040.4 1086.0 L1044.0 1085.7 L1047.6 1084.3 L1051.2 1086.9 L1054.8 1088.3 L1058.4 1085.6 L1062.0 1088.0 L1065.6 1085.6 L1069.2 1085.3 L1072.8 1086.1 L1076.4 1088.4 L1080.0 1087.6 L1083.6 1086.9 L1087.2 1084.4 L1090.8 1086.2 L1094.4 1084.3 L1098.0 1084.5 L1101.6 1085.9 L1105.2 1085.3 L1108.8 1084.7 L1112.4 1086.5 L1116.0 1087.7 L1119.6 1088.1 L1120.0 1088.0 L1123.2 1085.3 L1126.8 1083.4 L1130.4 1084.7 L1133.0 1082.2 L1134.0 1082.2 L1137.6 1084.9 L1141.2 1085.2 L1144.8 1087.6 L1146.0 1087.2 L1148.4 1088.5 L1152.0 1085.0 L1155.6 1088.5 L1159.2 1086.7 L1162.8 1087.4 L1166.4 1085.6 L1170.0 1085.4 L1173.6 1085.6 L1177.2 1085.0 L1180.8 1088.5 L1184.4 1084.8 L1188.0 1085.4 L1191.6 1087.1 L1195.2 1085.2 L1198.8 1085.2 L1202.4 1085.4 L1206.0 1085.3 L1209.6 1084.3 L1213.2 1087.6 L1216.8 1087.2 L1220.4 1085.7 L1224.0 1088.3 L1227.6 1086.8 L1231.2 1085.3 L1234.8 1088.5 L1238.4 1085.3 L1242.0 1087.9 L1245.6 1087.9 L1249.2 1084.3 L1252.8 1088.0 L1256.4 1086.2 L1260.0 1086.5 L1263.6 1088.5 L1267.2 1086.3 L1270.8 1085.4 L1274.4 1084.5 L1278.0 1088.2 L1281.6 1086.3 L1285.2 1087.4 L1288.8 1087.1 L1292.4 1088.6 L1296.0 1088.4 L1299.6 1088.4 L1303.2 1086.5 L1306.8 1088.3 L1310.4 1085.6 L1314.0 1084.8 L1317.6 1087.1 L1321.2 1084.4 L1324.8 1088.6 L1328.4 1085.7 L1332.0 1086.2 L1335.6 1085.6 L1339.2 1085.8 L1340.0 1086.6 L1342.8 1086.9 L1346.4 1083.5 L1350.0 1083.8 L1353.6 1082.6 L1357.2 1084.5 L1358.0 1082.2 L1360.8 1083.0 L1364.4 1085.4 L1368.0 1084.5 L1371.6 1085.3 L1375.0 1086.1 L1375.2 1085.5 L1378.8 1087.4 L1382.4 1085.5 L1386.0 1086.5 L1389.6 1086.8 L1393.2 1087.6 L1396.8 1087.5 L1400.4 1086.4 L1404.0 1088.4 L1407.6 1088.4 L1411.2 1088.3 L1414.8 1087.3 L1418.4 1086.2 L1422.0 1085.8 L1425.6 1087.9 L1429.2 1086.2 L1432.8 1087.4 L1436.4 1085.8 L1440.0 1085.7 L1443.6 1084.2 L1447.2 1087.3 L1450.8 1085.4 L1454.4 1086.3 L1458.0 1087.3 L1461.6 1087.7 L1465.2 1088.2 L1468.8 1087.0 L1472.4 1085.1 L1476.0 1088.1 L1479.6 1084.3 L1483.2 1085.8 L1486.8 1088.1 L1490.4 1087.7 L1494.0 1086.6 L1497.6 1087.8 L1501.2 1084.8 L1504.8 1084.1 L1508.4 1085.3 L1512.0 1088.0 L1515.6 1084.1 L1519.2 1085.4 L1522.8 1086.2 L1526.4 1084.8 L1530.0 1087.7 L1533.6 1084.4 L1537.2 1084.3 L1540.8 1088.2 L1544.4 1083.9 L1548.0 1084.8 L1551.6 1085.6 L1555.2 1087.7 L1558.8 1085.3 L1562.4 1086.3 L1566.0 1087.3 L1569.6 1086.5 L1573.2 1087.4 L1576.8 1083.9 L1580.4 1086.1 L1584.0 1083.9 L1587.6 1087.5 L1591.2 1083.9 L1594.8 1084.2 L1598.4 1085.6 L1602.0 1086.4 L1605.6 1083.8 L1609.2 1086.5 L1612.8 1084.1 L1616.4 1085.1 L1620.0 1083.9 L1623.6 1086.8 L1627.2 1087.3 L1630.8 1087.0 L1634.4 1085.0 L1638.0 1084.7 L1641.6 1087.8 L1645.2 1087.2 L1648.8 1087.8 L1652.4 1085.4 L1656.0 1087.4 L1659.6 1086.5 L1663.2 1087.0 L1666.8 1085.8 L1670.4 1087.0 L1674.0 1085.7 L1677.6 1084.7 L1681.2 1085.6 L1684.8 1083.7 L1688.4 1086.4 L1692.0 1085.0 L1695.6 1084.3 L1699.2 1086.9 L1702.8 1085.8 L1706.4 1084.8 L1710.0 1087.5 L1713.6 1087.5 L1717.2 1085.3 L1720.8 1085.8 L1724.4 1083.4 L1728.0 1085.0 L1731.6 1087.7 L1735.2 1085.6 L1738.8 1087.7 L1742.4 1083.5 L1746.0 1083.4 L1749.6 1083.6 L1753.2 1083.7 L1756.8 1086.6 L1759.0 1086.1" fill="none" stroke="#008000" stroke-width="7.6" stroke-linejoin="round" stroke-linecap="round" shape-rendering="crispEdges"/>
<path d="M108.0 1172.6 L111.6 1169.8 L115.2 1173.0 L118.8 1170.4 L122.4 1174.0 L126.0 1169.8 L129.6 1173.5 L133.2 1172.7 L136.8 1173.4 L140.4 1174.0 L144.0 1170.7 L147.6 1171.1 L151.2 1172.7 L154.8 1170.8 L158.4 1170.7 L162.0 1170.5 L165.6 1173.2 L169.2 1173.3 L172.8 1172.9 L176.4 1170.4 L180.0 1173.5 L183.6 1171.6 L187.2 1170.4 L190.8 1171.4 L194.4 1171.2 L198.0 1169.7 L200.0 1171.8 L201.6 1170.9 L205.2 1171.8 L208.8 1173.4 L212.4 1172.2 L216.0 1171.2 L219.6 1173.2 L223.2 1173.8 L226.8 1171.6 L230.4 1173.6 L234.0 1169.6 L237.6 1170.2 L241.2 1170.3 L244.8 1173.7 L248.4 1172.6 L252.0 1172.8 L255.6 1170.9 L259.2 1171.8 L262.8 1173.6 L266.4 1170.2 L270.0 1170.3 L273.6 1170.0 L277.2 1171.8 L280.0 1173.5 L280.8 1172.2 L284.4 1171.5 L288.0 1171.8 L291.6 1170.4 L295.2 1173.6 L298.8 1171.0 L302.4 1170.4 L306.0 1170.6 L309.6 1172.7 L313.2 1170.5 L316.8 1172.9 L320.4 1170.4 L324.0 1170.8 L327.6 1168.6 L331.2 1169.8 L333.0 1168.9 L334.8 1167.4 L338.4 1165.2 L342.0 1165.3 L343.0 1164.6 L345.6 1166.5 L349.2 1166.5 L350.6 1165.6 L352.8 1162.2 L356.4 1157.8 L357.0 1158.8 L360.0 1158.2 L363.6 1154.4 L363.8 1155.5 L367.2 1155.7 L370.5 1157.0 L370.8 1154.7 L373.8 1150.5 L374.4 1150.7 L378.0 1147.9 L381.6 1145.3 L383.7 1145.0 L385.2 1144.8 L388.8 1146.2 L389.2 1146.0 L392.4 1151.3 L393.6 1154.0 L396.0 1155.2 L399.6 1158.2 L401.3 1158.7 L403.2 1159.4 L406.8 1161.7 L410.4 1163.5 L412.4 1164.0 L414.0 1164.5 L417.6 1168.1 L421.2 1170.6 L423.4 1172.8 L424.8 1172.6 L428.4 1168.6 L432.0 1169.8 L435.6 1167.7 L436.6 1167.5 L439.2 1168.5 L442.8 1167.9 L446.4 1168.9 L450.0 1172.0 L453.6 1170.4 L456.5 1173.2 L457.2 1172.0 L460.8 1169.9 L464.4 1169.1 L467.5 1169.4 L468.0 1169.9 L471.5 1170.9 L471.6 1169.7 L475.2 1169.0 L477.7 1168.8 L478.8 1166.3 L481.2 1160.0 L482.4 1159.3 L486.0 1155.3 L487.4 1153.8 L489.6 1151.5 L492.7 1146.8 L493.2 1145.7 L496.8 1143.4 L497.0 1143.3 L498.0 1131.8 L499.7 1124.7 L500.4 1125.6 L504.0 1126.1 L505.0 1126.5 L506.8 1105.3 L507.6 1102.8 L510.3 1093.8 L511.2 1094.5 L514.7 1096.5 L514.8 1095.9 L518.4 1090.8 L520.0 1088.5 L522.0 1098.2 L523.5 1105.3 L525.3 1123.0 L525.6 1126.1 L527.0 1140.6 L529.2 1149.6 L529.7 1152.0 L532.4 1158.3 L532.8 1159.5 L535.9 1171.5 L536.4 1171.5 L540.0 1165.1 L541.2 1164.6 L543.6 1166.3 L547.2 1168.4 L547.4 1167.7 L550.8 1166.1 L554.4 1164.3 L557.0 1163.9 L558.0 1164.7 L561.6 1160.0 L565.0 1159.5 L565.2 1158.9 L568.8 1159.5 L572.4 1156.8 L573.9 1158.7 L576.0 1159.9 L579.2 1163.9 L579.6 1164.5 L583.2 1166.9 L586.8 1169.0 L588.0 1170.7 L590.4 1169.3 L594.0 1169.8 L597.6 1172.9 L601.2 1170.8 L604.8 1170.3 L608.4 1168.4 L608.8 1170.0 L612.0 1170.3 L615.0 1172.7 L615.6 1172.5 L619.2 1172.3 L622.8 1172.2 L626.4 1172.1 L630.0 1172.5 L633.6 1171.8 L637.2 1171.6 L640.8 1173.7 L644.0 1173.7 L644.4 1170.8 L648.0 1173.0 L651.6 1169.1 L655.0 1170.0 L655.2 1171.5 L658.8 1167.5 L659.0 1168.3 L662.4 1164.5 L665.0 1160.8 L666.0 1160.3 L669.6 1158.4 L673.2 1160.0 L676.8 1159.9 L677.0 1161.2 L680.4 1159.9 L684.0 1161.8 L687.6 1160.8 L688.0 1161.3 L691.2 1166.1 L693.8 1168.5 L694.8 1169.8 L698.4 1164.8 L699.3 1163.9 L702.0 1167.5 L705.6 1170.5 L706.0 1170.8 L709.2 1169.0 L712.8 1168.3 L715.8 1169.3 L716.4 1169.0 L720.0 1172.3 L721.3 1173.5 L723.6 1173.8 L727.2 1172.2 L730.8 1174.5 L734.4 1172.7 L738.0 1171.5 L741.6 1174.5 L745.2 1174.6 L748.8 1171.2 L752.4 1174.5 L756.0 1173.6 L759.6 1171.7 L763.2 1173.0 L766.8 1174.5 L770.4 1171.1 L774.0 1173.3 L777.6 1171.5 L780.0 1171.3 L781.2 1173.8 L784.8 1172.9 L788.4 1170.9 L792.0 1170.4 L795.6 1168.2 L799.2 1167.3 L802.8 1167.1 L806.4 1169.0 L809.8 1170.1 L810.0 1169.3 L813.6 1165.2 L813.8 1164.3 L817.2 1167.5 L818.7 1168.7 L820.8 1165.6 L824.4 1160.6 L824.7 1160.3 L828.0 1160.6 L828.7 1159.6 L831.6 1151.7 L832.6 1148.7 L835.2 1144.6 L837.6 1141.2 L838.8 1142.3 L842.4 1140.6 L845.5 1142.2 L846.0 1140.3 L849.6 1137.3 L851.5 1135.3 L853.2 1137.9 L855.5 1142.8 L856.8 1143.7 L859.4 1146.7 L860.4 1147.1 L863.4 1150.7 L864.0 1154.5 L865.4 1162.6 L867.6 1161.1 L871.2 1162.7 L872.4 1163.1 L874.8 1162.2 L877.3 1159.8 L878.4 1160.9 L882.0 1165.6 L883.3 1167.7 L885.6 1164.7 L889.2 1160.9 L892.2 1159.0 L892.8 1156.9 L896.4 1162.5 L897.2 1161.7 L900.0 1161.1 L902.1 1160.3 L903.6 1162.1 L906.1 1164.9 L907.2 1164.0 L910.0 1160.9 L910.8 1161.7 L914.4 1164.9 L918.0 1167.9 L919.0 1167.4 L921.6 1168.7 L924.0 1172.6 L925.2 1173.0 L928.8 1173.2 L932.4 1172.4 L936.0 1171.5 L939.6 1170.1 L940.0 1173.8 L943.2 1171.7 L946.8 1170.3 L950.4 1172.5 L954.0 1170.0 L957.6 1171.5 L961.2 1172.4 L964.8 1173.3 L968.4 1171.3 L972.0 1170.6 L975.6 1171.2 L979.2 1173.3 L982.8 1170.1 L986.4 1170.3 L990.0 1171.2 L993.6 1173.8 L997.2 1173.5 L1000.8 1173.9 L1004.4 1169.9 L1008.0 1171.8 L1011.6 1170.3 L1015.2 1172.2 L1018.8 1173.1 L1022.4 1171.7 L1026.0 1172.6 L1029.6 1172.6 L1033.2 1171.8 L1036.8 1171.3 L1040.4 1170.6 L1044.0 1172.7 L1047.6 1173.8 L1051.2 1173.8 L1054.8 1173.6 L1058.4 1173.2 L1062.0 1172.4 L1065.6 1171.7 L1069.2 1170.0 L1072.8 1173.0 L1076.4 1170.3 L1080.0 1173.5 L1083.6 1173.2 L1087.2 1170.7 L1090.8 1173.4 L1094.4 1172.7 L1098.0 1173.0 L1101.6 1169.9 L1105.2 1170.6 L1108.8 1170.1 L1112.4 1173.5 L1116.0 1170.4 L1119.6 1171.3 L1123.2 1172.6 L1126.8 1171.1 L1130.4 1172.1 L1134.0 1172.1 L1137.6 1171.0 L1141.2 1173.4 L1144.8 1172.2 L1148.4 1172.5 L1152.0 1172.5 L1155.6 1172.0 L1159.2 1170.0 L1162.8 1173.3 L1166.4 1173.4 L1170.0 1169.7 L1173.6 1170.8 L1177.2 1170.0 L1180.8 1169.8 L1184.4 1171.7 L1188.0 1171.1 L1191.6 1169.8 L1195.2 1171.3 L1198.8 1172.2 L1202.4 1169.7 L1206.0 1172.0 L1209.6 1172.0 L1213.2 1172.8 L1216.8 1173.5 L1220.4 1173.0 L1224.0 1170.7 L1227.6 1169.5 L1231.2 1170.5 L1234.8 1169.8 L1238.4 1172.8 L1242.0 1170.7 L1245.6 1171.5 L1249.2 1172.2 L1252.8 1171.0 L1256.4 1173.4 L1260.0 1171.9 L1263.6 1171.6 L1267.2 1169.7 L1270.8 1170.0 L1274.4 1172.0 L1278.0 1170.9 L1281.6 1171.5 L1285.2 1172.8 L1288.8 1171.9 L1292.4 1172.6 L1296.0 1170.5 L1299.6 1169.2 L1303.2 1170.1 L1306.8 1172.9 L1310.4 1169.9 L1314.0 1169.4 L1317.6 1169.2 L1321.2 1173.2 L1324.8 1169.8 L1328.4 1169.2 L1332.0 1170.4 L1335.6 1169.0 L1339.2 1172.0 L1340.0 1171.8 L1342.8 1170.7 L1346.4 1172.0 L1350.0 1168.9 L1353.6 1172.3 L1357.2 1171.6 L1360.8 1172.1 L1364.4 1169.4 L1368.0 1172.9 L1371.6 1173.1 L1375.2 1170.9 L1378.8 1170.1 L1382.4 1171.0 L1386.0 1171.8 L1389.6 1170.7 L1393.2 1171.1 L1396.8 1172.9 L1400.4 1171.8 L1404.0 1170.4 L1407.6 1172.7 L1411.2 1172.1 L1414.8 1168.8 L1418.4 1170.8 L1422.0 1170.0 L1425.6 1170.0 L1429.2 1170.3 L1432.8 1172.3 L1436.4 1171.3 L1440.0 1169.7 L1443.6 1168.9 L1447.2 1169.3 L1450.8 1170.3 L1454.4 1171.0 L1458.0 1170.8 L1461.6 1170.5 L1465.2 1170.9 L1468.8 1169.9 L1472.4 1172.8 L1476.0 1169.5 L1479.6 1170.2 L1483.2 1171.5 L1486.8 1172.2 L1490.4 1170.3 L1494.0 1171.3 L1497.6 1169.7 L1501.2 1168.6 L1504.8 1172.8 L1508.4 1168.8 L1512.0 1171.9 L1515.6 1168.7 L1519.2 1169.8 L1522.8 1170.8 L1526.4 1172.4 L1530.0 1172.0 L1533.6 1169.8 L1537.2 1168.5 L1540.8 1171.8 L1544.4 1171.7 L1548.0 1172.6 L1551.6 1169.0 L1555.2 1171.4 L1558.8 1171.1 L1562.4 1172.3 L1566.0 1172.1 L1569.6 1171.8 L1573.2 1172.1 L1576.8 1168.8 L1580.4 1172.7 L1584.0 1171.0 L1587.6 1172.3 L1591.2 1169.0 L1594.8 1170.6 L1598.4 1172.3 L1602.0 1172.6 L1605.6 1171.0 L1609.2 1172.3 L1612.8 1168.5 L1616.4 1168.8 L1620.0 1169.5 L1623.6 1172.2 L1627.2 1171.5 L1630.8 1170.2 L1634.4 1172.3 L1638.0 1170.6 L1641.6 1168.9 L1645.2 1172.4 L1648.8 1171.5 L1652.4 1172.6 L1656.0 1171.7 L1659.6 1170.5 L1663.2 1172.2 L1666.8 1168.8 L1670.4 1168.3 L1674.0 1169.4 L1677.6 1172.4 L1681.2 1168.6 L1684.8 1171.6 L1688.4 1170.6 L1692.0 1168.8 L1695.6 1169.1 L1699.2 1171.4 L1702.8 1169.9 L1706.4 1172.1 L1710.0 1168.4 L1713.6 1170.7 L1717.2 1171.9 L1720.8 1169.2 L1724.4 1169.4 L1728.0 1170.7 L1731.6 1168.9 L1735.2 1171.0 L1738.8 1172.2 L1742.4 1169.5 L1746.0 1168.9 L1749.6 1172.0 L1753.2 1168.4 L1756.8 1171.8 L1759.0 1170.2" fill="none" stroke="#ff0000" stroke-width="7.6" stroke-linejoin="round" stroke-linecap="round" shape-rendering="crispEdges"/>
<path d="M108.0 1245.8 L111.6 1245.9 L115.2 1245.6 L118.8 1245.7 L122.4 1245.5 L126.0 1246.6 L129.6 1244.8 L133.2 1246.5 L136.8 1243.7 L140.4 1245.0 L144.0 1245.1 L147.6 1244.2 L151.2 1246.8 L154.8 1244.9 L158.4 1247.0 L162.0 1247.7 L165.6 1244.6 L169.2 1247.4 L172.8 1247.0 L176.4 1246.4 L180.0 1243.5 L183.6 1245.4 L187.2 1246.1 L190.8 1244.7 L194.4 1244.3 L198.0 1244.7 L200.0 1244.5 L201.6 1246.8 L205.2 1245.0 L208.8 1245.4 L212.4 1246.4 L216.0 1247.8 L219.6 1245.1 L223.2 1244.1 L226.8 1248.2 L230.4 1247.7 L234.0 1247.6 L237.6 1246.5 L241.2 1245.4 L244.8 1245.2 L248.4 1245.9 L252.0 1246.6 L255.6 1245.0 L259.2 1247.8 L260.0 1247.9 L262.8 1244.8 L266.4 1247.5 L270.0 1245.8 L273.6 1247.0 L277.2 1244.9 L280.8 1245.6 L284.4 1243.9 L285.4 1244.5 L288.0 1244.4 L291.6 1243.2 L295.2 1244.1 L298.8 1245.0 L302.4 1246.1 L306.0 1246.4 L306.3 1247.2 L309.6 1246.6 L313.2 1244.8 L316.8 1243.6 L320.4 1243.3 L324.0 1243.7 L326.2 1242.6 L327.6 1241.8 L331.2 1241.2 L334.8 1238.3 L337.2 1237.3 L338.4 1236.7 L342.0 1235.0 L345.6 1233.3 L346.0 1234.2 L349.2 1230.2 L351.6 1225.5 L352.8 1226.6 L356.4 1227.2 L359.3 1225.2 L360.0 1221.4 L361.5 1214.0 L363.6 1211.1 L366.0 1207.7 L367.2 1207.5 L370.3 1210.8 L370.8 1209.4 L373.6 1198.7 L374.4 1197.9 L378.0 1197.1 L381.3 1195.3 L381.6 1196.2 L385.2 1194.7 L388.0 1192.4 L388.8 1192.3 L392.4 1196.6 L394.6 1199.8 L396.0 1203.1 L399.6 1211.4 L400.0 1212.0 L402.3 1223.0 L403.2 1225.5 L405.6 1232.9 L406.8 1233.5 L410.4 1237.0 L412.2 1239.3 L414.0 1241.0 L417.6 1239.6 L420.0 1242.1 L421.2 1242.6 L424.8 1243.2 L427.7 1244.0 L428.4 1243.8 L432.0 1245.9 L435.6 1246.8 L439.2 1247.3 L442.8 1245.1 L443.0 1246.0 L446.4 1244.4 L450.0 1245.7 L453.6 1245.7 L457.2 1245.1 L460.8 1245.0 L464.4 1248.9 L468.0 1246.1 L471.6 1247.0 L474.0 1247.3 L475.2 1246.9 L478.8 1247.4 L482.4 1246.9 L486.0 1246.7 L489.6 1244.9 L493.2 1247.2 L496.8 1247.2 L500.4 1247.4 L504.0 1245.6 L505.0 1246.2 L507.6 1246.6 L511.2 1245.3 L514.8 1242.2 L516.5 1242.6 L518.4 1241.8 L522.0 1243.7 L525.6 1242.2 L526.6 1242.1 L529.2 1242.9 L532.0 1244.6 L532.8 1244.7 L536.4 1241.5 L539.7 1238.0 L540.0 1238.2 L543.6 1236.0 L547.2 1232.5 L548.2 1232.4 L549.7 1226.3 L550.8 1226.6 L554.4 1224.9 L556.4 1227.3 L558.0 1223.8 L561.6 1216.7 L562.0 1216.5 L565.2 1218.0 L568.5 1217.5 L568.8 1217.2 L572.4 1220.0 L575.2 1222.0 L576.0 1224.3 L579.6 1232.0 L583.2 1234.1 L586.8 1236.2 L588.4 1236.3 L590.4 1239.5 L592.8 1244.1 L594.0 1243.8 L597.6 1245.5 L601.2 1246.1 L604.8 1247.2 L608.3 1244.8 L608.4 1244.4 L612.0 1248.2 L615.6 1247.4 L619.2 1248.7 L622.8 1248.0 L626.4 1248.6 L630.0 1245.3 L630.3 1245.4 L633.6 1247.1 L637.2 1247.5 L640.8 1244.9 L641.3 1247.9 L644.4 1244.6 L648.0 1243.4 L651.6 1243.1 L652.4 1242.3 L655.2 1239.4 L658.8 1235.9 L659.0 1236.3 L662.4 1230.7 L665.6 1226.8 L666.0 1227.2 L669.6 1228.3 L673.2 1228.0 L674.4 1229.7 L676.8 1226.7 L680.4 1228.1 L684.0 1225.7 L686.6 1224.6 L687.6 1227.2 L691.2 1234.3 L692.0 1236.3 L694.8 1238.5 L698.4 1240.8 L701.0 1243.2 L702.0 1242.6 L705.6 1246.0 L707.5 1243.7 L709.2 1245.4 L712.8 1246.1 L716.4 1246.7 L720.0 1248.0 L723.6 1247.2 L727.2 1245.0 L730.8 1249.2 L734.4 1246.3 L738.0 1247.7 L740.0 1246.6 L741.6 1248.9 L745.2 1245.4 L748.8 1244.8 L752.0 1245.0 L752.4 1246.0 L756.0 1245.6 L759.6 1242.8 L763.2 1246.0 L766.0 1245.4 L766.8 1248.2 L770.4 1244.9 L774.0 1247.8 L777.6 1244.8 L781.2 1246.2 L784.8 1246.2 L788.4 1247.5 L790.0 1245.1 L792.0 1247.0 L795.6 1244.0 L799.2 1247.7 L802.8 1246.4 L806.0 1246.6 L806.4 1247.7 L810.0 1244.0 L812.7 1243.3 L813.6 1242.8 L817.2 1240.3 L820.8 1238.1 L824.4 1237.1 L826.0 1236.0 L828.0 1235.7 L831.6 1233.4 L833.8 1232.5 L835.2 1228.8 L836.5 1225.0 L838.8 1224.2 L841.8 1221.6 L842.4 1222.1 L846.0 1225.7 L849.6 1226.0 L852.4 1228.2 L853.2 1226.3 L856.8 1229.3 L860.4 1230.2 L864.0 1228.7 L865.6 1229.2 L867.6 1232.0 L871.2 1236.3 L872.2 1237.1 L874.8 1234.2 L878.4 1234.2 L878.9 1235.8 L882.0 1230.7 L885.6 1226.7 L886.8 1224.3 L889.2 1224.4 L892.8 1221.3 L893.4 1223.0 L896.4 1219.9 L900.0 1216.3 L903.6 1221.5 L907.2 1225.4 L908.0 1226.9 L910.8 1230.1 L913.3 1231.0 L914.4 1233.5 L917.2 1237.7 L918.0 1239.2 L921.6 1244.2 L923.9 1247.9 L925.2 1248.0 L928.8 1245.6 L929.2 1245.2 L932.4 1244.3 L936.0 1244.6 L939.6 1246.1 L940.0 1245.7 L943.2 1247.6 L946.8 1245.0 L950.4 1245.2 L954.0 1247.5 L957.6 1244.4 L961.2 1244.6 L964.8 1244.2 L968.4 1244.3 L972.0 1244.6 L975.6 1247.4 L979.2 1245.4 L982.8 1244.6 L986.4 1246.3 L990.0 1245.7 L993.6 1244.2 L997.2 1244.4 L1000.8 1245.2 L1004.4 1245.9 L1008.0 1244.6 L1011.6 1245.9 L1015.2 1246.2 L1018.8 1248.1 L1022.4 1246.7 L1026.0 1245.4 L1029.6 1245.0 L1033.2 1244.8 L1036.8 1245.7 L1040.4 1248.2 L1044.0 1248.2 L1047.6 1244.6 L1051.2 1246.8 L1054.8 1247.3 L1058.4 1248.0 L1062.0 1247.3 L1065.6 1246.7 L1069.2 1244.3 L1072.8 1245.1 L1076.4 1248.0 L1080.0 1247.9 L1083.6 1247.7 L1087.2 1245.3 L1090.8 1247.3 L1094.4 1247.3 L1098.0 1245.6 L1100.0 1245.3 L1101.6 1245.8 L1105.2 1246.0 L1108.8 1243.7 L1112.4 1243.5 L1116.0 1247.4 L1119.6 1244.8 L1123.2 1244.7 L1125.0 1245.3 L1126.8 1244.3 L1130.4 1243.1 L1134.0 1241.0 L1136.0 1237.9 L1137.6 1239.4 L1141.2 1241.8 L1144.8 1243.7 L1148.0 1247.1 L1148.4 1245.5 L1152.0 1243.9 L1155.6 1247.0 L1159.2 1244.7 L1162.8 1245.2 L1166.4 1246.2 L1170.0 1246.6 L1173.6 1244.5 L1177.2 1245.3 L1180.8 1243.5 L1184.4 1247.6 L1188.0 1247.3 L1191.6 1247.1 L1195.2 1244.4 L1198.8 1246.3 L1202.4 1245.5 L1206.0 1244.3 L1209.6 1244.5 L1213.2 1247.4 L1216.8 1246.3 L1220.4 1246.3 L1224.0 1244.3 L1227.6 1246.3 L1231.2 1247.6 L1234.8 1244.6 L1238.4 1244.8 L1242.0 1247.9 L1245.6 1245.0 L1249.2 1245.8 L1250.0 1247.8 L1252.8 1246.9 L1256.4 1245.1 L1260.0 1245.1 L1263.6 1244.6 L1267.2 1243.7 L1270.8 1245.7 L1274.4 1244.0 L1278.0 1244.4 L1281.6 1246.8 L1285.2 1243.7 L1288.8 1243.4 L1292.4 1243.2 L1296.0 1245.6 L1299.6 1243.9 L1300.0 1244.0 L1303.2 1245.0 L1306.8 1245.7 L1310.4 1246.6 L1314.0 1242.6 L1317.6 1243.7 L1321.2 1242.2 L1324.8 1243.5 L1328.4 1244.6 L1332.0 1243.1 L1335.6 1243.4 L1339.2 1242.7 L1340.0 1245.6 L1342.8 1244.9 L1346.4 1245.2 L1350.0 1244.0 L1353.6 1245.2 L1357.2 1244.1 L1360.8 1241.7 L1364.4 1241.9 L1368.0 1245.5 L1371.6 1243.7 L1375.2 1244.5 L1378.8 1243.8 L1380.0 1245.2 L1382.4 1242.4 L1386.0 1242.5 L1389.6 1243.0 L1393.2 1245.3 L1396.8 1244.9 L1400.4 1244.9 L1404.0 1243.8 L1407.6 1244.9 L1411.2 1244.6 L1414.8 1244.1 L1418.4 1247.7 L1420.0 1247.3 L1422.0 1247.3 L1425.6 1245.4 L1429.2 1247.5 L1432.8 1247.3 L1436.4 1244.8 L1440.0 1247.9 L1443.6 1247.3 L1447.2 1244.0 L1450.8 1244.2 L1454.4 1244.1 L1458.0 1246.6 L1461.6 1244.4 L1465.2 1244.3 L1468.8 1243.8 L1472.4 1245.6 L1476.0 1245.0 L1479.6 1246.1 L1483.2 1244.4 L1486.8 1246.7 L1490.4 1246.3 L1494.0 1245.3 L1497.6 1247.8 L1501.2 1246.2 L1504.8 1245.9 L1508.4 1244.6 L1512.0 1244.9 L1515.6 1246.7 L1519.2 1245.0 L1522.8 1244.0 L1526.4 1245.3 L1530.0 1245.6 L1533.6 1244.1 L1537.2 1244.5 L1540.8 1247.5 L1544.4 1247.0 L1548.0 1245.3 L1551.6 1246.7 L1555.2 1246.2 L1558.8 1244.3 L1562.4 1245.8 L1566.0 1243.7 L1569.6 1246.0 L1573.2 1245.7 L1576.8 1243.8 L1580.4 1245.6 L1584.0 1244.4 L1587.6 1246.2 L1591.2 1247.6 L1594.8 1246.8 L1598.4 1243.6 L1602.0 1245.9 L1605.6 1245.7 L1609.2 1247.3 L1612.8 1244.5 L1616.4 1243.6 L1620.0 1244.8 L1623.6 1244.7 L1627.2 1246.9 L1630.8 1247.1 L1634.4 1245.8 L1638.0 1246.5 L1641.6 1245.1 L1645.2 1244.3 L1648.8 1245.0 L1652.4 1246.1 L1656.0 1244.5 L1659.6 1246.7 L1663.2 1245.1 L1666.8 1244.1 L1670.4 1245.3 L1674.0 1246.9 L1677.6 1244.6 L1681.2 1244.4 L1684.8 1245.3 L1688.4 1247.2 L1692.0 1246.5 L1695.6 1246.2 L1699.2 1244.1 L1702.8 1245.7 L1706.4 1245.9 L1710.0 1244.3 L1713.6 1245.2 L1717.2 1243.6 L1720.8 1246.9 L1724.4 1245.8 L1728.0 1245.7 L1731.6 1246.5 L1735.2 1246.2 L1738.8 1244.4 L1742.4 1245.5 L1746.0 1243.4 L1749.6 1245.8 L1753.2 1244.5 L1756.8 1245.1 L1759.0 1245.4" fill="none" stroke="#000000" stroke-width="7.6" stroke-linejoin="round" stroke-linecap="round" shape-rendering="crispEdges"/>
<text x="104.4" y="1408" font-size="71" text-anchor="middle">10</text>
<text x="436.9" y="1408" font-size="71" text-anchor="middle">15</text>
<text x="769.2" y="1408" font-size="71" text-anchor="middle">20</text>
<text x="1100.1" y="1408" font-size="71" text-anchor="middle">25</text>
<text x="1432.0" y="1408" font-size="71" text-anchor="middle">30</text>
<text x="1764.6" y="1408" font-size="71" text-anchor="middle">35</text>
<text x="619" y="1498" font-size="69" textLength="634" lengthAdjust="spacingAndGlyphs">Diffraction angle 2<tspan font-style="italic">&#952;</tspan>/&#176;</text>
<text transform="translate(71 891) rotate(-90)" x="0" y="0" font-size="69" textLength="426" lengthAdjust="spacingAndGlyphs">Intensity (a.u.)</text>
<text x="1479" y="456.0" font-size="63" textLength="229.0" lengthAdjust="spacingAndGlyphs">WBG-0.5</text>
<text x="1479" y="713.0" font-size="63" textLength="229.4" lengthAdjust="spacingAndGlyphs">WBG-0.3</text>
<text x="1479" y="903.5" font-size="63" textLength="257.0" lengthAdjust="spacingAndGlyphs">WBG-0.15</text>
<text x="1479" y="1071.5" font-size="63" textLength="228.8" lengthAdjust="spacingAndGlyphs">WBG-0.1</text>
<text x="1479" y="1156.8" font-size="63" textLength="257.0" lengthAdjust="spacingAndGlyphs">WBG-0.05</text>
<text x="1479" y="1237.6" font-size="63" textLength="187.2" lengthAdjust="spacingAndGlyphs">WBG-0</text>
<text transform="translate(404.0 455.0) rotate(-90)" x="0" y="0" font-size="71" textLength="186.0" lengthAdjust="spacingAndGlyphs"><tspan font-style="italic">&#945;</tspan>(110)</text>
<text transform="translate(481.0 223.0) rotate(-90)" x="0" y="0" font-size="71" textLength="182.0" lengthAdjust="spacingAndGlyphs">&#946;(300)</text>
<text transform="translate(598.0 455.0) rotate(-90)" x="0" y="0" font-size="71" textLength="186.0" lengthAdjust="spacingAndGlyphs"><tspan font-style="italic">&#945;</tspan>(040)</text>
<text transform="translate(700.5 455.0) rotate(-90)" x="0" y="0" font-size="71" textLength="186.0" lengthAdjust="spacingAndGlyphs"><tspan font-style="italic">&#945;</tspan>(130)</text>
</svg></body></html>
